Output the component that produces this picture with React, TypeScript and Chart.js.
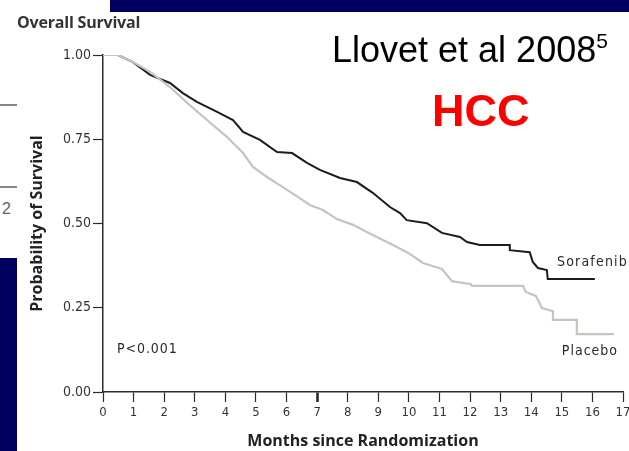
import { useEffect, useRef } from "react";
import { Chart, registerables } from "chart.js";

Chart.register(...registerables);

// Kaplan-Meier overall survival, months since randomization
const sorafenibMonths = [0, 0.49, 0.98, 1.54, 2.19, 2.61, 3.07, 3.73, 4.25, 4.58, 5.13, 5.69, 6.18, 6.67, 7.09, 7.75, 8.3, 8.82, 9.38, 9.71, 9.93, 10.59, 11.08, 11.67, 11.9, 12.32, 13.3, 13.3, 13.95, 14.05, 14.22, 14.51, 14.54, 16.08];
const sorafenibSurvival = [1.0, 1.0, 0.979, 0.941, 0.917, 0.887, 0.861, 0.831, 0.807, 0.772, 0.748, 0.712, 0.709, 0.68, 0.659, 0.635, 0.623, 0.591, 0.549, 0.531, 0.51, 0.501, 0.472, 0.46, 0.445, 0.436, 0.436, 0.421, 0.415, 0.386, 0.368, 0.362, 0.335, 0.335];

const placeboMonths = [0, 0.49, 0.98, 1.54, 2.19, 2.75, 3.4, 4.05, 4.58, 4.9, 5.36, 5.88, 6.37, 6.76, 7.19, 7.65, 8.17, 8.82, 9.61, 10.03, 10.46, 11.08, 11.41, 12.03, 12.06, 13.73, 13.82, 14.15, 14.22, 14.35, 14.71, 14.71, 15.49, 15.49, 16.7];
const placeboSurvival = [1.0, 1.0, 0.979, 0.95, 0.905, 0.858, 0.807, 0.757, 0.709, 0.668, 0.638, 0.608, 0.579, 0.555, 0.54, 0.513, 0.496, 0.466, 0.43, 0.41, 0.383, 0.365, 0.329, 0.32, 0.315, 0.315, 0.297, 0.285, 0.273, 0.249, 0.24, 0.214, 0.214, 0.172, 0.172];

const seriesNames = ["Sorafenib", "Placebo"];
const pValueText = "P<0.001";
const yTickValues = [0, 0.25, 0.5, 0.75, 1.0];

const tickFont = "'Liberation Sans Narrow', 'DejaVu Sans Condensed', 'Liberation Sans', sans-serif";
const titleFont = "'Open Sans', 'Liberation Sans', sans-serif";

const toPoints = (xs: number[], ys: number[]) => xs.map((x, i) => ({ x, y: ys[i] }));

// In-plot labels placed in data coordinates
const curveLabels = [
  { text: seriesNames[0], x: 14.84, y: 0.386, spacing: "1.2px" },
  { text: seriesNames[1], x: 15.0, y: 0.122, spacing: "1px" },
  { text: pValueText, x: 0.46, y: 0.128, spacing: "0.9px" },
];

const labelPlugin = {
  id: "curveLabels",
  afterDatasetsDraw(chart: any) {
    const { ctx, scales } = chart;
    ctx.save();
    ctx.font = `14px ${tickFont}`;
    ctx.fillStyle = "#2a2a2a";
    ctx.textAlign = "left";
    ctx.textBaseline = "middle";
    for (const l of curveLabels) {
      ctx.letterSpacing = l.spacing;
      ctx.fillText(l.text, scales.x.getPixelForValue(l.x), scales.y.getPixelForValue(l.y));
    }
    ctx.restore();
  },
};

function SurvivalChart() {
  const ref = useRef<HTMLCanvasElement | null>(null);
  useEffect(() => {
    if (!ref.current) return;
    const chart = new Chart(ref.current, {
      type: "line",
      data: {
        datasets: [
          {
            label: seriesNames[1],
            data: toPoints(placeboMonths, placeboSurvival),
            borderColor: "#c8c3bd",
            borderWidth: 2.2,
            pointRadius: 0,
            tension: 0,
          },
          {
            label: seriesNames[0],
            data: toPoints(sorafenibMonths, sorafenibSurvival),
            borderColor: "#1c1c1c",
            borderWidth: 2,
            pointRadius: 0,
            tension: 0,
          },
        ],
      },
      options: {
        animation: false,
        responsive: false,
        devicePixelRatio: 1,
        layout: { padding: { top: 55, right: 6, left: 0, bottom: 0 } },
        plugins: { legend: { display: false }, tooltip: { enabled: false } },
        scales: {
          x: {
            type: "linear",
            min: 0,
            max: 17,
            afterFit: (s: any) => {
              s.height = 59;
              s.paddingLeft = 0;
              s.paddingRight = 0;
            },
            border: { color: "#2b2b2b", width: 1.5 },
            grid: {
              drawOnChartArea: false,
              drawTicks: true,
              tickLength: 10,
              tickColor: "#2b2b2b",
              tickWidth: (c: any) => (c.tick && c.tick.value === 7 ? 2.6 : 1.2),
            },
            ticks: {
              stepSize: 1,
              autoSkip: false,
              maxRotation: 0,
              padding: 3,
              color: "#333",
              font: { family: tickFont, size: 13 },
            },
            title: {
              display: true,
              text: "Months since Randomization",
              color: "#222",
              font: { family: titleFont, size: 16, weight: "bold" },
              padding: { top: 0, bottom: 0 },
            },
          },
          y: {
            min: 0,
            max: 1,
            afterFit: (s: any) => {
              s.width = 103;
              s.paddingTop = 0;
              s.paddingBottom = 0;
            },
            afterBuildTicks: (s: any) => {
              s.ticks = yTickValues.map((v) => ({ value: v }));
            },
            border: { color: "#2b2b2b", width: 1.5 },
            grid: {
              drawOnChartArea: false,
              drawTicks: true,
              tickLength: 10,
              tickColor: "#2b2b2b",
              tickWidth: 1.2,
            },
            ticks: {
              padding: 2,
              color: "#333",
              font: { family: tickFont, size: 14 },
              callback: (v: any) => Number(v).toFixed(2),
            },
            title: {
              display: true,
              text: "Probability of Survival",
              color: "#222",
              font: { family: titleFont, size: 16, weight: "bold" },
              padding: { top: 28, bottom: 0 },
            },
          },
        },
      },
      plugins: [labelPlugin],
    });
    return () => chart.destroy();
  }, []);
  return <canvas ref={ref} width={629} height={451} style={{ position: "absolute", left: 0, top: 0 }} />;
}

export default function App() {
  return (
    <div
      style={{
        position: "fixed",
        left: 0,
        top: 0,
        width: 629,
        height: 451,
        background: "#ffffff",
        overflow: "hidden",
      }}
    >
      <div style={{ position: "absolute", left: 110, top: 0, width: 519, height: 12, background: "#00005f" }} />
      <div style={{ position: "absolute", left: 0, top: 258, width: 17, height: 193, background: "#00005f" }} />
      <div style={{ position: "absolute", left: 0, top: 104, width: 17, height: 2, background: "#8d847c" }} />
      <div style={{ position: "absolute", left: 0, top: 186, width: 17, height: 2, background: "#8d847c" }} />
      <div
        style={{
          position: "absolute",
          left: 2,
          top: 201,
          fontFamily: "'Liberation Sans', sans-serif",
          fontSize: 16,
          lineHeight: "16px",
          color: "#6f6058",
        }}
      >
        2
      </div>
      <SurvivalChart />
      <div
        style={{
          position: "absolute",
          left: 17,
          top: 13,
          fontFamily: titleFont,
          fontWeight: 700,
          fontSize: 16,
          lineHeight: "18px",
          color: "#333",
          letterSpacing: -0.2,
        }}
      >
        Overall Survival
      </div>
      <div
        style={{
          position: "absolute",
          left: 332,
          top: 31.5,
          fontFamily: "'Liberation Sans', Arial, sans-serif",
          fontSize: 36,
          lineHeight: "36px",
          color: "#000",
          whiteSpace: "nowrap",
        }}
      >
        Llovet et al 2008
        <span style={{ fontSize: 21, position: "relative", top: -14 }}>5</span>
      </div>
      <div
        style={{
          position: "absolute",
          left: 432,
          top: 88,
          fontFamily: "'Liberation Sans', Arial, sans-serif",
          fontWeight: 700,
          fontSize: 45,
          lineHeight: "45px",
          color: "#ff0000",
        }}
      >
        HCC
      </div>
    </div>
  );
}
